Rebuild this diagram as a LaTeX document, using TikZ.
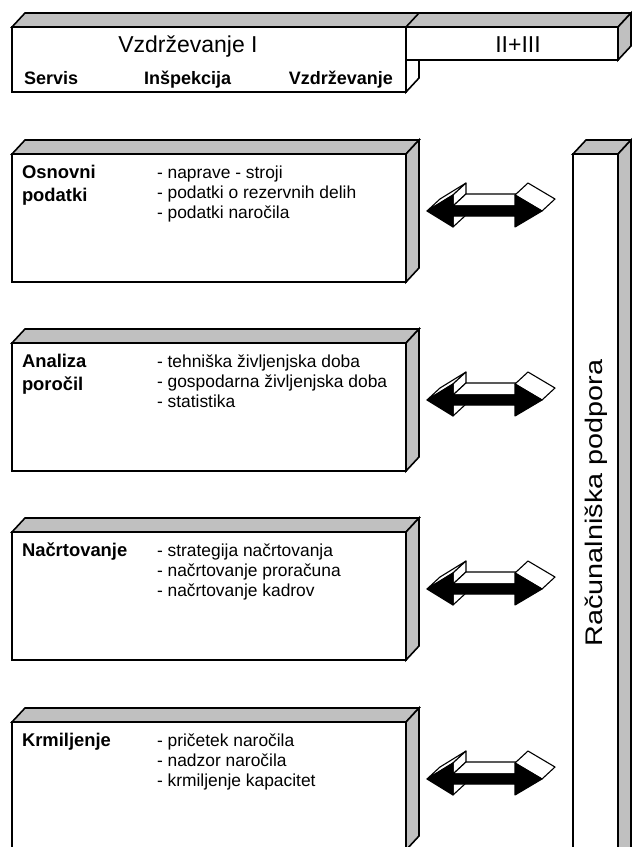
\documentclass[tikz,border=0pt]{standalone}
\usepackage{fontspec}
\setmainfont{Liberation Sans}
\definecolor{facegray}{HTML}{C0C0C0}

\tikzset{
  outline/.style={draw=black, line width=1.6pt, line join=miter},
  frontface/.style={outline, fill=white},
  sideface/.style={outline, fill=facegray},
  arrowface/.style={draw=black, line width=1.1pt, line join=round, fill=white},
  arrowfront/.style={draw=black, line width=1.1pt, line join=round, fill=black},
  txt/.style={inner sep=0pt, outer sep=0pt},
  headtxt/.style={txt, font=\fontsize{23}{26}\selectfont},
  subtxt/.style={txt, font=\fontsize{18}{22}\selectfont\bfseries},
  labtxt/.style={txt, anchor=base west, font=\fontsize{18.4}{22}\selectfont\bfseries},
  itemtxt/.style={txt, anchor=base west, font=\fontsize{17.4}{20}\selectfont},
}

% 3D slab: front face from (left,top) to (right,bottom), extruded up and right
\newcommand\drawslab[4]{%
  \filldraw[sideface] (#1,#2) -- (#1+13,#2-14) -- (#3+13,#2-14) -- (#3,#2) -- cycle;
  \filldraw[sideface] (#3,#2) -- (#3+13,#2-14) -- (#3+13,#4-14) -- (#3,#4) -- cycle;
  \filldraw[frontface] (#1,#2) rectangle (#3,#4);
}

% extruded double arrow centred at height #1
\newcommand\dblarrow[1]{%
  \begin{scope}[shift={(0,#1)}]
    \filldraw[arrowface] (453,5) -- (453,16) -- (466,4) -- (466,-7) -- cycle;
    \filldraw[arrowface] (427,0) -- (453,-16) -- (466,-28) -- (440,-12) -- cycle;
    \filldraw[arrowface] (453,-16) -- (453,-5) -- (466,-17) -- (466,-28) -- cycle;
    \filldraw[arrowface] (453,-5) -- (515,-5) -- (528,-17) -- (466,-17) -- cycle;
    \filldraw[arrowface] (515,-16) -- (542,0) -- (555,-12) -- (528,-28) -- cycle;
    \filldraw[arrowfront] (427,0) -- (453,-16) -- (453,-5) -- (515,-5) -- (515,-16)
      -- (542,0) -- (515,16) -- (515,5) -- (453,5) -- (453,16) -- cycle;
  \end{scope}
}

\begin{document}
\begin{tikzpicture}[x=1pt, y=-1pt]
\useasboundingbox (0,0) rectangle (632,847);
\clip (0,0) rectangle (632,847);
\fill[white] (0,0) rectangle (632,847);

% ---- header bar: Vzdrzevanje I and II+III
\filldraw[sideface] (12,27) -- (25,13) -- (631,13) -- (618,27) -- cycle;
\draw[outline] (406,27) -- (419,13);
\filldraw[sideface] (618,27) -- (631,13) -- (631,46) -- (618,60) -- cycle;
\filldraw[frontface] (406,60) -- (419,60) -- (419,78) -- (406,92) -- cycle;
\filldraw[frontface] (12,27) rectangle (406,92);
\filldraw[frontface] (406,27) rectangle (618,60);

\node[headtxt, anchor=base] (head1) at (188,52) {Vzdrževanje I};
\node[headtxt, anchor=base] (head2) at (518,52) {II+III};
\node[subtxt, anchor=base west] (sub1) at (24,84) {Servis};
\node[subtxt, anchor=base west] (sub2) at (144,84) {Inšpekcija};
\node[subtxt, anchor=base east] (sub3) at (393,84) {Vzdrževanje};

% ---- computer support column
\drawslab{573}{154}{618}{900}
\node[txt, rotate=90, font=\fontsize{24}{28}\selectfont] (comp) at (596,503)
  {\scalebox{1.2}[1]{Računalniška podpora}};

% ---- function blocks
\drawslab{12}{154}{406}{282}
\drawslab{12}{343}{406}{471}
\drawslab{12}{532}{406}{660}
\drawslab{12}{722}{406}{850}

\node[labtxt] (b1a) at (22,178) {Osnovni};
\node[labtxt] (b1b) at (22,201) {podatki};
\node[itemtxt] (b1i1) at (157,178) {- naprave - stroji};
\node[itemtxt] (b1i2) at (157,198) {- podatki o rezervnih delih};
\node[itemtxt] (b1i3) at (157,218) {- podatki naročila};

\node[labtxt] (b2a) at (22,367) {Analiza};
\node[labtxt] (b2b) at (22,390) {poročil};
\node[itemtxt] (b2i1) at (157,367) {- tehniška življenjska doba};
\node[itemtxt] (b2i2) at (157,387) {- gospodarna življenjska doba};
\node[itemtxt] (b2i3) at (157,407) {- statistika};

\node[labtxt] (b3a) at (22,556) {Načrtovanje};
\node[itemtxt] (b3i1) at (157,556) {- strategija načrtovanja};
\node[itemtxt] (b3i2) at (157,576) {- načrtovanje proračuna};
\node[itemtxt] (b3i3) at (157,596) {- načrtovanje kadrov};

\node[labtxt] (b4a) at (22,746) {Krmiljenje};
\node[itemtxt] (b4i1) at (157,746) {- pričetek naročila};
\node[itemtxt] (b4i2) at (157,766) {- nadzor naročila};
\node[itemtxt] (b4i3) at (157,786) {- krmiljenje kapacitet};

% ---- exchange arrows
\dblarrow{211}
\dblarrow{400}
\dblarrow{589}
\dblarrow{779}
\end{tikzpicture}
\end{document}
